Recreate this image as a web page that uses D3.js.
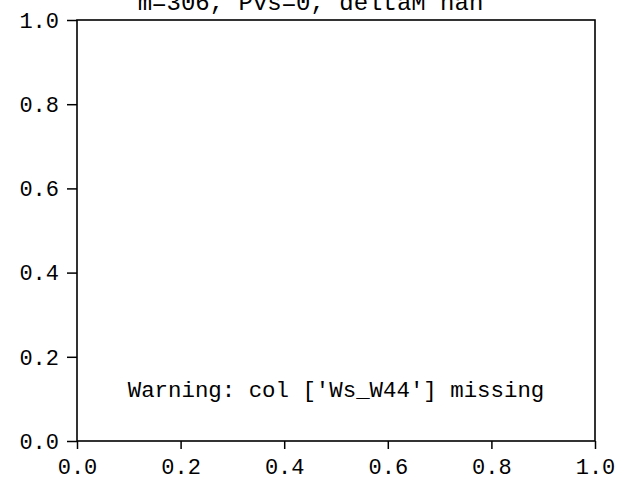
<!DOCTYPE html>
<html>
<head>
<meta charset="utf-8">
<script src="https://cdn.jsdelivr.net/npm/d3@7"></script>
<style>
  html, body { margin: 0; padding: 0; background: #fff; }
  svg { display: block; }
  text { font-family: "Liberation Mono", "DejaVu Sans Mono", monospace; fill: #000; }
</style>
</head>
<body>
<script>
const xTicks = [0.0, 0.2, 0.4, 0.6, 0.8, 1.0];
const yTicks = [0.0, 0.2, 0.4, 0.6, 0.8, 1.0];
const xDomain = [0, 1];
const yDomain = [0, 1];
const titleText = "m=306, Pvs=0, deltaM nan";
const warningText = "Warning: col ['Ws_W44'] missing";
const warningPos = [0.5, 0.1];

(function () {
  const W = 621, H = 489;
  const mLeft = 77, mRight = 595, mTop = 20, mBottom = 441;

  const svg = d3.select("body").append("svg").attr("width", W).attr("height", H);

  const x = d3.scaleLinear().domain(xDomain).range([mLeft, mRight]);
  const y = d3.scaleLinear().domain(yDomain).range([mBottom, mTop]);
  const fmt = d3.format(".1f");

  // X axis
  const xAxis = svg.append("g").attr("transform", `translate(0,${mBottom})`)
    .call(d3.axisBottom(x).tickValues(xTicks).tickFormat(fmt).tickSize(8).tickPadding(8));
  xAxis.selectAll("text").style("font-size", "22px").attr("dy", "0.75em");

  // Y axis
  const yAxis = svg.append("g").attr("transform", `translate(${mLeft},0)`)
    .call(d3.axisLeft(y).tickValues(yTicks).tickFormat(fmt).tickSize(10).tickPadding(8));
  yAxis.selectAll("text").style("font-size", "22px").attr("dy", "0.33em");

  [xAxis, yAxis].forEach(g => {
    g.select(".domain").remove();
    g.selectAll(".tick line").attr("stroke", "#000").attr("stroke-width", 1.5);
  });

  // Frame (spines)
  svg.append("rect")
    .attr("x", x(xDomain[0])).attr("y", y(yDomain[1]))
    .attr("width", x(xDomain[1]) - x(xDomain[0]))
    .attr("height", y(yDomain[0]) - y(yDomain[1]))
    .attr("fill", "none").attr("stroke", "#000").attr("stroke-width", 1.6);

  // Warning text
  svg.append("text")
    .attr("x", x(warningPos[0])).attr("y", y(warningPos[1]) - 2)
    .attr("text-anchor", "middle")
    .style("font-size", "22.4px")
    .text(warningText);

  // Title (clipped at top of page)
  svg.append("text")
    .attr("x", 310.5).attr("y", 10)
    .attr("text-anchor", "middle")
    .style("font-size", "24px")
    .text(titleText);
})();
</script>
</body>
</html>
